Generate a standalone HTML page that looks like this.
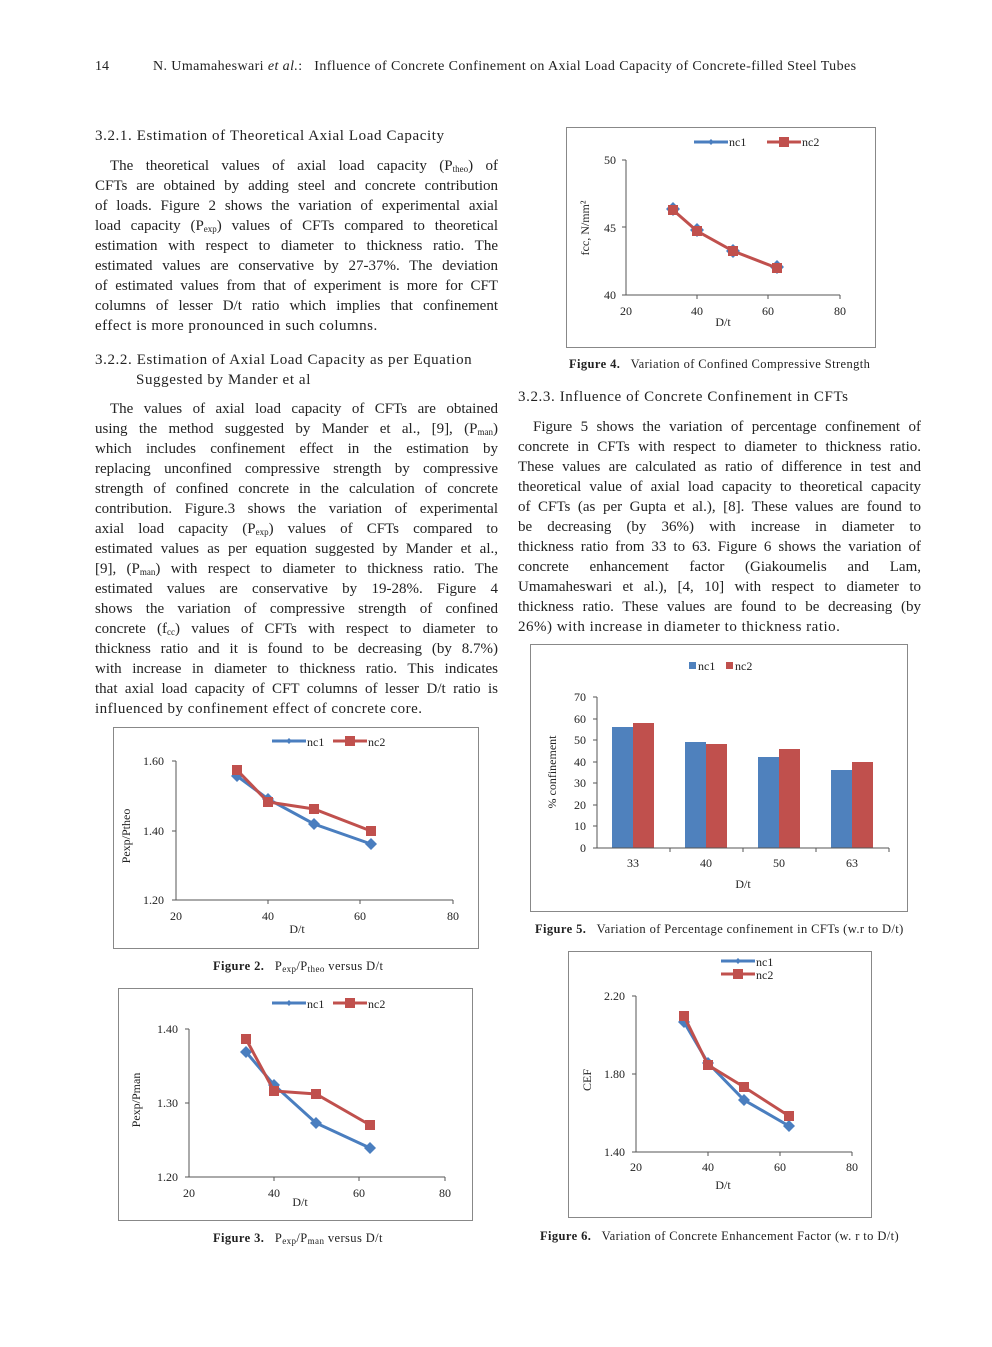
<!DOCTYPE html>
<html><head><meta charset="utf-8"><style>
body{margin:0;background:#fff}
#p{position:relative;width:992px;height:1347px;font-family:"Liberation Serif",serif;color:#222;font-size:15px;overflow:hidden}
.t{position:absolute;white-space:nowrap;letter-spacing:0.6px}
.c{position:absolute;width:403px;line-height:20px}
.c div{text-align:justify;text-align-last:justify;white-space:nowrap;height:20px}
.c div.l{text-align-last:left;letter-spacing:0.5px}
.c div.i{padding-left:15px}
.cap{position:absolute;font-size:12.5px;white-space:nowrap;letter-spacing:0.4px}
sub{font-size:9px;vertical-align:-2px;line-height:0}
svg{position:absolute;left:0;top:0}
</style></head><body><div id="p">
<div class="t" style="left:95px;top:59px;font-size:14px;letter-spacing:0">14</div>
<div class="t" style="left:153px;top:59px;font-size:14px;letter-spacing:0.4px">N. Umamaheswari <i>et al.</i>:&nbsp;&nbsp; Influence of Concrete Confinement on Axial Load Capacity of Concrete-filled Steel Tubes</div>

<div class="t" style="left:95px;top:128px">3.2.1. Estimation of Theoretical Axial Load Capacity</div>
<div class="c" style="left:95px;top:156px">
<div class="i">The theoretical values of axial load capacity (P<sub>theo</sub>) of</div>
<div>CFTs are obtained by adding steel and concrete contribution</div>
<div>of loads. Figure 2 shows the variation of experimental axial</div>
<div>load capacity (P<sub>exp</sub>) values of CFTs compared to theoretical</div>
<div>estimation with respect to diameter to thickness ratio. The</div>
<div>estimated values are conservative by 27-37%. The deviation</div>
<div>of estimated values from that of experiment is more for CFT</div>
<div>columns of lesser D/t ratio which implies that confinement</div>
<div class="l">effect is more pronounced in such columns.</div>
</div>
<div class="t" style="left:95px;top:352px">3.2.2. Estimation of Axial Load Capacity as per Equation</div>
<div class="t" style="left:136px;top:372px">Suggested by Mander et al</div>
<div class="c" style="left:95px;top:399px">
<div class="i">The values of axial load capacity of CFTs are obtained</div>
<div>using the method suggested by Mander et al., [9], (P<sub>man</sub>)</div>
<div>which includes confinement effect in the estimation by</div>
<div>replacing unconfined compressive strength by compressive</div>
<div>strength of confined concrete in the calculation of concrete</div>
<div>contribution. Figure.3 shows the variation of experimental</div>
<div>axial load capacity (P<sub>exp</sub>) values of CFTs compared to</div>
<div>estimated values as per equation suggested by Mander et al.,</div>
<div>[9], (P<sub>man</sub>) with respect to diameter to thickness ratio. The</div>
<div>estimated values are conservative by 19-28%. Figure 4</div>
<div>shows the variation of compressive strength of confined</div>
<div>concrete (f<sub>cc</sub>) values of CFTs with respect to diameter to</div>
<div>thickness ratio and it is found to be decreasing (by 8.7%)</div>
<div>with increase in diameter to thickness ratio. This indicates</div>
<div>that axial load capacity of CFT columns of lesser D/t ratio is</div>
<div class="l">influenced by confinement effect of concrete core.</div>
</div>

<div class="t" style="left:518px;top:389px">3.2.3. Influence of Concrete Confinement in CFTs</div>
<div class="c" style="left:518px;top:417px">
<div class="i">Figure 5 shows the variation of percentage confinement of</div>
<div>concrete in CFTs with respect to diameter to thickness ratio.</div>
<div>These values are calculated as ratio of difference in test and</div>
<div>theoretical value of axial load capacity to theoretical capacity</div>
<div>of CFTs (as per Gupta et al.), [8]. These values are found to</div>
<div>be decreasing (by 36%) with increase in diameter to</div>
<div>thickness ratio from 33 to 63. Figure 6 shows the variation of</div>
<div>concrete enhancement factor (Giakoumelis and Lam,</div>
<div>Umamaheswari et al.), [4, 10] with respect to diameter to</div>
<div>thickness ratio. These values are found to be decreasing (by</div>
<div class="l">26%) with increase in diameter to thickness ratio.</div>
</div>

<div class="cap" style="left:569px;top:357px"><b>Figure 4.</b>&nbsp;&nbsp; Variation of Confined Compressive Strength</div>
<div class="cap" style="left:535px;top:922px"><b>Figure 5.</b>&nbsp;&nbsp; Variation of Percentage confinement in CFTs (w.r to D/t)</div>
<div class="cap" style="left:213px;top:959px"><b>Figure 2.</b>&nbsp;&nbsp; P<sub>exp</sub>/P<sub>theo</sub> versus D/t</div>
<div class="cap" style="left:213px;top:1231px"><b>Figure 3.</b>&nbsp;&nbsp; P<sub>exp</sub>/P<sub>man</sub> versus D/t</div>
<div class="cap" style="left:540px;top:1229px"><b>Figure 6.</b>&nbsp;&nbsp; Variation of Concrete Enhancement Factor (w. r to D/t)</div>

<svg width="992" height="1347" font-family="Liberation Serif, serif" font-size="12" fill="#222">
<g fill="none" stroke="#888" stroke-width="1">
<rect x="566.5" y="127.5" width="309" height="220"/>
<rect x="113.5" y="727.5" width="365" height="221"/>
<rect x="118.5" y="988.5" width="354" height="232"/>
<rect x="530.5" y="644.5" width="377" height="267"/>
<rect x="568.5" y="951.5" width="303" height="266"/>
</g>
<!-- Fig4 -->
<g stroke="#555" fill="none"><path d="M626,160V295H840"/><path d="M622,160h4M622,227h4M622,295h4M697,295v4M768,295v4M840,295v4"/></g>
<g text-anchor="end"><text x="616" y="164">50</text><text x="616" y="232">45</text><text x="616" y="299">40</text></g>
<g text-anchor="middle"><text x="626" y="315">20</text><text x="697" y="315">40</text><text x="768" y="315">60</text><text x="840" y="315">80</text><text x="723" y="326">D/t</text></g>
<text transform="translate(589,228) rotate(-90)" text-anchor="middle">fcc, N/mm²</text>
<g fill="#4a7ebf"><path d="M673,202l7,7-7,7-7-7z"/><path d="M697,223l7,7-7,7-7-7z"/><path d="M733,244l7,7-7,7-7-7z"/><path d="M777,260l7,7-7,7-7-7z"/></g>
<polyline points="673,210 697,231 733,251 777,268" fill="none" stroke="#c0504d" stroke-width="3"/>
<g fill="#c0504d"><rect x="668" y="205" width="10" height="10"/><rect x="692" y="226" width="10" height="10"/><rect x="728" y="246" width="10" height="10"/><rect x="772" y="263" width="10" height="10"/></g>
<path d="M694,142h34" stroke="#4a7ebf" stroke-width="3"/><path d="M711,139l3,3-3,3-3-3z" fill="#4a7ebf"/><text x="729" y="146">nc1</text>
<path d="M767,142h34" stroke="#c0504d" stroke-width="3"/><rect x="779" y="137" width="10" height="10" fill="#c0504d"/><text x="802" y="146">nc2</text>
<!-- Fig2 -->
<g stroke="#555" fill="none"><path d="M176,761V900H453"/><path d="M172,761h4M172,831h4M172,900h4M268,900v4M360,900v4M453,900v4"/></g>
<g text-anchor="end"><text x="164" y="765">1.60</text><text x="164" y="835">1.40</text><text x="164" y="904">1.20</text></g>
<g text-anchor="middle"><text x="176" y="920">20</text><text x="268" y="920">40</text><text x="360" y="920">60</text><text x="453" y="920">80</text><text x="297" y="933">D/t</text></g>
<text transform="translate(130,836) rotate(-90)" text-anchor="middle">Pexp/Ptheo</text>
<polyline points="237,776 268,799 314,824 371,844" fill="none" stroke="#4a7ebf" stroke-width="3"/>
<g fill="#4a7ebf"><path d="M237,770l6,6-6,6-6-6z"/><path d="M268,793l6,6-6,6-6-6z"/><path d="M314,818l6,6-6,6-6-6z"/><path d="M371,838l6,6-6,6-6-6z"/></g>
<polyline points="237,770 268,802 314,809 371,831" fill="none" stroke="#c0504d" stroke-width="3"/>
<g fill="#c0504d"><rect x="232" y="765" width="10" height="10"/><rect x="263" y="797" width="10" height="10"/><rect x="309" y="804" width="10" height="10"/><rect x="366" y="826" width="10" height="10"/></g>
<path d="M272,741h34" stroke="#4a7ebf" stroke-width="3"/><path d="M289,738l3,3-3,3-3-3z" fill="#4a7ebf"/><text x="307" y="746">nc1</text>
<path d="M333,741h34" stroke="#c0504d" stroke-width="3"/><rect x="345" y="736" width="10" height="10" fill="#c0504d"/><text x="368" y="746">nc2</text>
<!-- Fig3 -->
<g stroke="#555" fill="none"><path d="M189,1029V1177H445"/><path d="M185,1029h4M185,1103h4M185,1177h4M274,1177v4M359,1177v4M445,1177v4"/></g>
<g text-anchor="end"><text x="178" y="1033">1.40</text><text x="178" y="1107">1.30</text><text x="178" y="1181">1.20</text></g>
<g text-anchor="middle"><text x="189" y="1197">20</text><text x="274" y="1197">40</text><text x="359" y="1197">60</text><text x="445" y="1197">80</text><text x="300" y="1206">D/t</text></g>
<text transform="translate(140,1100) rotate(-90)" text-anchor="middle">Pexp/Pman</text>
<polyline points="246,1052 274,1085 316,1123 370,1148" fill="none" stroke="#4a7ebf" stroke-width="3"/>
<g fill="#4a7ebf"><path d="M246,1046l6,6-6,6-6-6z"/><path d="M274,1079l6,6-6,6-6-6z"/><path d="M316,1117l6,6-6,6-6-6z"/><path d="M370,1142l6,6-6,6-6-6z"/></g>
<polyline points="246,1039 274,1091 316,1094 370,1125" fill="none" stroke="#c0504d" stroke-width="3"/>
<g fill="#c0504d"><rect x="241" y="1034" width="10" height="10"/><rect x="269" y="1086" width="10" height="10"/><rect x="311" y="1089" width="10" height="10"/><rect x="365" y="1120" width="10" height="10"/></g>
<path d="M272,1003h34" stroke="#4a7ebf" stroke-width="3"/><path d="M289,1000l3,3-3,3-3-3z" fill="#4a7ebf"/><text x="307" y="1008">nc1</text>
<path d="M333,1003h34" stroke="#c0504d" stroke-width="3"/><rect x="345" y="998" width="10" height="10" fill="#c0504d"/><text x="368" y="1008">nc2</text>
<!-- Fig5 -->
<g fill="#4f81bd"><rect x="612" y="727" width="21" height="121"/><rect x="685" y="742" width="21" height="106"/><rect x="758" y="757" width="21" height="91"/><rect x="831" y="770" width="21" height="78"/></g>
<g fill="#c0504d"><rect x="633" y="723" width="21" height="125"/><rect x="706" y="744" width="21" height="104"/><rect x="779" y="749" width="21" height="99"/><rect x="852" y="762" width="21" height="86"/></g>
<g stroke="#555" fill="none"><path d="M597,697V848H889"/><path d="M593,697h4M593,719h4M593,740h4M593,762h4M593,783h4M593,805h4M593,826h4M593,848h4M670,848v4M743,848v4M816,848v4M889,848v4"/></g>
<g text-anchor="end"><text x="586" y="701">70</text><text x="586" y="723">60</text><text x="586" y="744">50</text><text x="586" y="766">40</text><text x="586" y="787">30</text><text x="586" y="809">20</text><text x="586" y="830">10</text><text x="586" y="852">0</text></g>
<g text-anchor="middle"><text x="633" y="867">33</text><text x="706" y="867">40</text><text x="779" y="867">50</text><text x="852" y="867">63</text><text x="743" y="888">D/t</text></g>
<text transform="translate(556,772) rotate(-90)" text-anchor="middle">% confinement</text>
<rect x="689" y="662" width="7" height="7" fill="#4f81bd"/><text x="698" y="670">nc1</text>
<rect x="726" y="662" width="7" height="7" fill="#c0504d"/><text x="735" y="670">nc2</text>
<!-- Fig6 -->
<g stroke="#555" fill="none"><path d="M636,996V1152H852"/><path d="M632,996h4M632,1074h4M632,1152h4M708,1152v4M780,1152v4M852,1152v4"/></g>
<g text-anchor="end"><text x="625" y="1000">2.20</text><text x="625" y="1078">1.80</text><text x="625" y="1156">1.40</text></g>
<g text-anchor="middle"><text x="636" y="1171">20</text><text x="708" y="1171">40</text><text x="780" y="1171">60</text><text x="852" y="1171">80</text><text x="723" y="1189">D/t</text></g>
<text transform="translate(591,1080) rotate(-90)" text-anchor="middle">CEF</text>
<polyline points="684,1022 708,1063 744,1100 789,1126" fill="none" stroke="#4a7ebf" stroke-width="3"/>
<g fill="#4a7ebf"><path d="M684,1016l6,6-6,6-6-6z"/><path d="M708,1057l6,6-6,6-6-6z"/><path d="M744,1094l6,6-6,6-6-6z"/><path d="M789,1120l6,6-6,6-6-6z"/></g>
<polyline points="684,1016 708,1065 744,1087 789,1116" fill="none" stroke="#c0504d" stroke-width="3"/>
<g fill="#c0504d"><rect x="679" y="1011" width="10" height="10"/><rect x="703" y="1060" width="10" height="10"/><rect x="739" y="1082" width="10" height="10"/><rect x="784" y="1111" width="10" height="10"/></g>
<path d="M721,961h34" stroke="#4a7ebf" stroke-width="3"/><path d="M738,958l3,3-3,3-3-3z" fill="#4a7ebf"/><text x="756" y="966">nc1</text>
<path d="M721,974h34" stroke="#c0504d" stroke-width="3"/><rect x="733" y="969" width="10" height="10" fill="#c0504d"/><text x="756" y="979">nc2</text>
</svg>
</div></body></html>
